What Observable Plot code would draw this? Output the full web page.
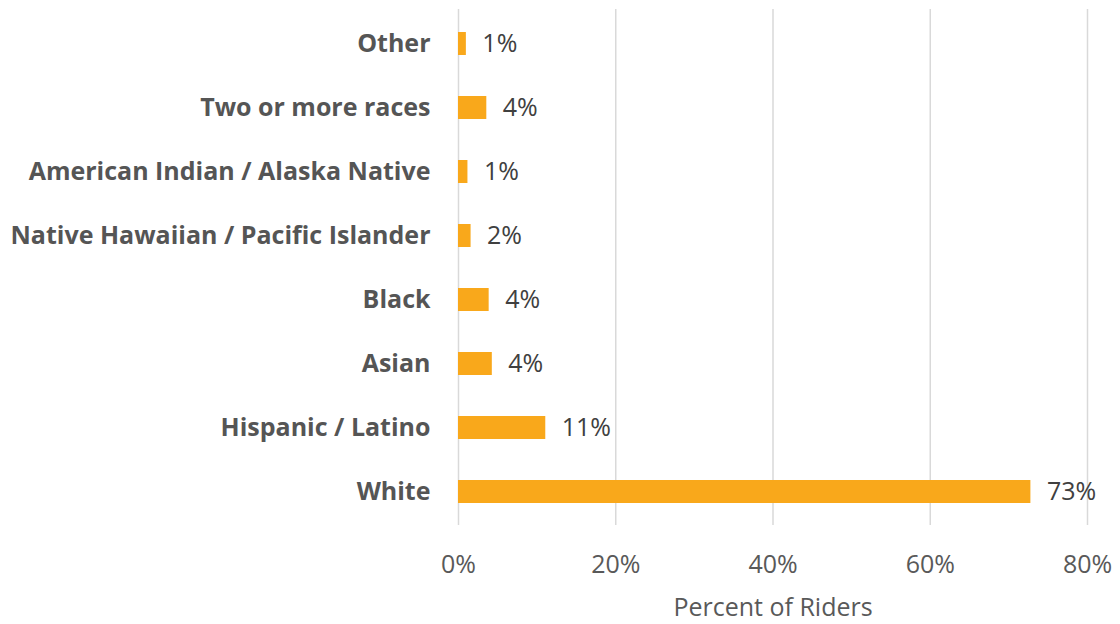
<!DOCTYPE html>
<html>
<head>
<meta charset="utf-8">
<script src="https://cdn.jsdelivr.net/npm/d3@7"></script>
<script src="https://cdn.jsdelivr.net/npm/@observablehq/plot@0.6"></script>
<style>
  html, body { margin: 0; padding: 0; background: #ffffff; }
  #chart svg [aria-label="y-axis tick label"] text { font-weight: bold; }
</style>
</head>
<body>
<div id="chart"></div>
<script>
const categories = [
  "Other",
  "Two or more races",
  "American Indian / Alaska Native",
  "Native Hawaiian / Pacific Islander",
  "Black",
  "Asian",
  "Hispanic / Latino",
  "White"
];
const percents = [1.0, 3.6, 1.2, 1.6, 3.9, 4.3, 11.1, 72.8];
const xTicks = [0, 20, 40, 60, 80];
const axisTitle = "Percent of Riders";

const data = categories.map((c, i) => ({category: c, value: percents[i]}));

const chart = Plot.plot({
  width: 1120,
  height: 624,
  marginLeft: 458,
  marginRight: 33,
  marginTop: 9,
  marginBottom: 99,
  style: {fontFamily: "'Open Sans', sans-serif", fontSize: "25px", color: "#595959", background: "#ffffff"},
  x: {domain: [0, 80]},
  y: {domain: categories, paddingInner: 0.643, paddingOuter: 0.3215},
  marks: [
    Plot.gridX(xTicks, {stroke: "#D9D9D9", strokeOpacity: 1, strokeWidth: 1.5}),
    Plot.barX(data, {x: "value", y: "category", fill: "#F9A81B"}),
    Plot.text(data, {x: "value", y: "category", text: d => Math.round(d.value) + "%", textAnchor: "start", dx: 16, fill: "#404040", fontSize: 25}),
    Plot.axisY({tickSize: 0, tickPadding: 28, fontSize: 25, label: null, fill: "#555555"}),
    Plot.axisX({ticks: xTicks, tickFormat: d => d + "%", tickSize: 0, tickPadding: 30, fontSize: 25, fill: "#595959",
      label: axisTitle, labelAnchor: "center", labelArrow: "none", labelOffset: 90})
  ]
});
document.getElementById("chart").appendChild(chart);
</script>
</body>
</html>
